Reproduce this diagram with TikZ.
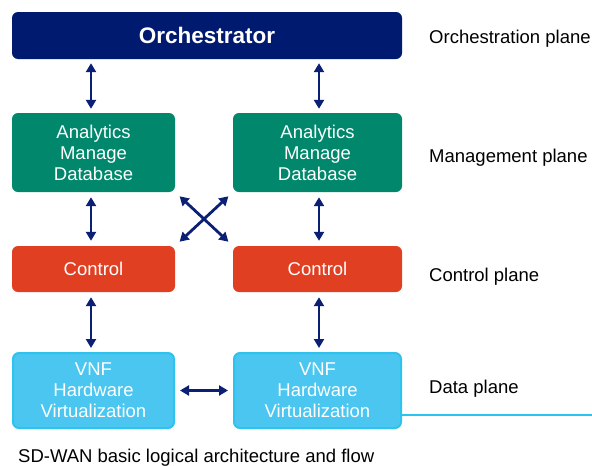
\documentclass[tikz,border=0pt]{standalone}
\usepackage{fontspec}
\setmainfont{Liberation Sans}
\usetikzlibrary{arrows.meta,calc}
\definecolor{navy}{HTML}{001A70}
\definecolor{arrnavy}{HTML}{0B1F74}
\definecolor{teal}{HTML}{00876C}
\definecolor{redc}{HTML}{E03F22}
\definecolor{skyf}{HTML}{4AC6F0}
\definecolor{skyd}{HTML}{2EC2EF}
\begin{document}
\begin{tikzpicture}[x=1pt,y=-1pt,
  box/.style={rounded corners=6pt,text=white,align=center,font=\fontsize{18.5}{21}\selectfont,inner sep=0pt},
  arr/.style={draw=arrnavy,line width=2.8pt,{Triangle[length=9pt,width=10pt]}-{Triangle[length=9pt,width=10pt]}},
  plane/.style={anchor=west,inner sep=0pt,font=\fontsize{18.5}{21}\selectfont}]
\useasboundingbox (0,0) rectangle (592,466);
\node[box,fill=navy,minimum width=390pt,minimum height=47pt,font=\fontsize{22.5}{26}\selectfont\bfseries] (o) at (207,35.5) {Orchestrator};
\node[box,fill=teal,minimum width=163pt,minimum height=79pt] (m1) at (93.5,152.5) {Analytics\\Manage\\Database};
\node[box,fill=teal,minimum width=169pt,minimum height=79pt] (m2) at (317.5,152.5) {Analytics\\Manage\\Database};
\node[box,fill=redc,minimum width=163pt,minimum height=46pt] (c1) at (93.5,269) {Control};
\node[box,fill=redc,minimum width=169pt,minimum height=46pt] (c2) at (317.5,269) {Control};
\node[box,fill=skyf,draw=skyd,line width=2pt,minimum width=161pt,minimum height=75pt] (d1) at (93.5,390.5) {VNF\\Hardware\\Virtualization};
\node[box,fill=skyf,draw=skyd,line width=2pt,minimum width=167pt,minimum height=75pt] (d2) at (317.5,390.5) {VNF\\Hardware\\Virtualization};
\coordinate (ax1) at (91,0);
\coordinate (ax2) at (319,0);
\draw[arr,shorten <=4pt,shorten >=4pt] (o.south -| ax1) -- (m1.north -| ax1);
\draw[arr,shorten <=4pt,shorten >=4pt] (o.south -| ax2) -- (m2.north -| ax2);
\draw[arr,shorten <=5pt,shorten >=5pt] (m1.south -| ax1) -- (c1.north -| ax1);
\draw[arr,shorten <=5pt,shorten >=5pt] (m2.south -| ax2) -- (c2.north -| ax2);
\draw[arr,shorten <=5pt,shorten >=4pt] (c1.south -| ax1) -- (d1.north -| ax1);
\draw[arr,shorten <=5pt,shorten >=4pt] (c2.south -| ax2) -- (d2.north -| ax2);
\draw[arr,shorten <=5pt,shorten >=5pt] (d1.east) -- (d2.west);
\draw[arr,shorten <=6pt,shorten >=6pt] (m1.south east) -- (c2.north west);
\draw[arr,shorten <=6pt,shorten >=6pt] (m2.south west) -- (c1.north east);
\coordinate (lineend) at (592,415);
\draw[skyd,line width=2pt] (d2.east |- lineend) -- (lineend);
\node[plane] (p1) at (429,39) {Orchestration plane};
\node[plane] (p2) at (429,158) {Management plane};
\node[plane] (p3) at (429,277) {Control plane};
\node[plane] (p4) at (429,389) {Data plane};
\node[anchor=west,inner sep=0pt,font=\fontsize{18.5}{21}\selectfont] (cap) at (18,458) {SD-WAN basic logical architecture and flow};
\end{tikzpicture}
\end{document}
